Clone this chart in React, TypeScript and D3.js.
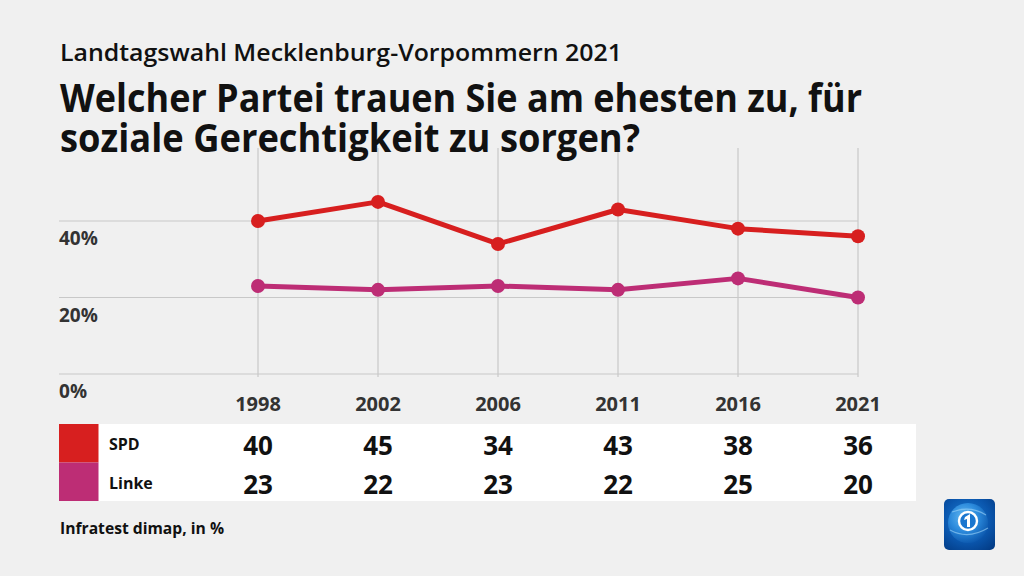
import React from "react";
import * as d3 from "d3";

const years = ["1998", "2002", "2006", "2011", "2016", "2021"];
const spd = [40, 45, 34, 43, 38, 36];
const linke = [23, 22, 23, 22, 25, 20];
const yTicks = [0, 20, 40];
const seriesNames = ["SPD", "Linke"];
const seriesColors = ["#d71f1f", "#bd2d75"];

const W = 1024;
const H = 576;
const FONT = "'Open Sans', 'Noto Sans', sans-serif";

export default function App() {
  const x = d3.scalePoint<string>().domain(years).range([258, 858]).padding(0);
  const y = d3.scaleLinear().domain([0, 40]).range([374, 221]);
  const line = d3
    .line<number>()
    .x((_, i) => x(years[i]) as number)
    .y((d) => y(d));
  const series = [spd, linke];
  const gridTop = 148;

  return (
    <svg
      width={W}
      height={H}
      style={{ position: "absolute", left: 0, top: 0, display: "block" }}
      fontFamily={FONT}
    >
      <defs>
        <radialGradient id="logoBg" cx="0.45" cy="0.4" r="0.75">
          <stop offset="0" stopColor="#1d7fd6" />
          <stop offset="0.6" stopColor="#0a56ad" />
          <stop offset="1" stopColor="#033c86" />
        </radialGradient>
        <radialGradient id="globe" cx="0.4" cy="0.35" r="0.7">
          <stop offset="0" stopColor="#6cc0f5" />
          <stop offset="0.5" stopColor="#2f8fe0" />
          <stop offset="1" stopColor="#0a55ab" />
        </radialGradient>
      </defs>
      <rect x={0} y={0} width={W} height={H} fill="#f0f0f0" />

      {/* subtitle */}
      <text x={60} y={61} fontSize={24} fontWeight={600} fill="#111" textLength={562} lengthAdjust="spacingAndGlyphs">
        Landtagswahl Mecklenburg-Vorpommern 2021
      </text>

      {/* grid */}
      {yTicks.map((t) => (
        <line key={"h" + t} x1={59} x2={858} y1={y(t)} y2={y(t)} stroke="#c8c8c8" strokeWidth={1.2} />
      ))}
      {years.map((yr) => (
        <line key={"v" + yr} x1={x(yr)} x2={x(yr)} y1={gridTop} y2={377} stroke="#c8c8c8" strokeWidth={1.2} />
      ))}

      {/* title */}
      <text fontSize={40} fontWeight={700} fill="#111">
        <tspan x={60} y={112} textLength={802} lengthAdjust="spacingAndGlyphs">
          Welcher Partei trauen Sie am ehesten zu, für
        </tspan>
        <tspan x={60} y={152} textLength={580} lengthAdjust="spacingAndGlyphs">
          soziale Gerechtigkeit zu sorgen?
        </tspan>
      </text>

      {/* y labels */}
      {yTicks.map((t) => (
        <text key={"yl" + t} x={59} y={y(t) + 24} fontSize={19} fontWeight={700} fill="#333">
          {t}%
        </text>
      ))}
      {/* x labels */}
      {years.map((yr) => (
        <text key={"xl" + yr} x={x(yr)} y={411} fontSize={20} fontWeight={700} fill="#333" textAnchor="middle">
          {yr}
        </text>
      ))}

      {/* lines */}
      {series.map((s, si) => (
        <g key={"s" + si}>
          <path d={line(s) || ""} fill="none" stroke={seriesColors[si]} strokeWidth={5} strokeLinejoin="round" />
          {s.map((v, i) => (
            <circle key={i} cx={x(years[i])} cy={y(v)} r={7} fill={seriesColors[si]} />
          ))}
        </g>
      ))}

      {/* table */}
      <rect x={98} y={424} width={818} height={77} fill="#ffffff" />
      {series.map((s, si) => {
        const top = 424 + si * 38.5;
        return (
          <g key={"t" + si}>
            <rect x={59} y={top} width={39.5} height={38.5} fill={seriesColors[si]} />
            <text x={109} y={top + 26} fontSize={16} fontWeight={700} fill="#111">
              {seriesNames[si]}
            </text>
            {s.map((v, i) => (
              <text key={i} x={x(years[i])} y={top + 31} fontSize={26} fontWeight={700} fill="#111" textAnchor="middle">
                {v}
              </text>
            ))}
          </g>
        );
      })}

      <text x={60} y={534} fontSize={16} fontWeight={700} fill="#111" textLength={164} lengthAdjust="spacingAndGlyphs">
        Infratest dimap, in %
      </text>

      {/* logo */}
      <g>
        <rect x={944} y={499} width={51} height={51} rx={5} fill="url(#logoBg)" />
        <circle cx={968} cy={523} r={20} fill="url(#globe)" opacity={0.9} />
        <path d="M950 530 Q968 540 988 528" fill="none" stroke="#9fd6fa" strokeWidth={1.2} opacity={0.6} />
        <path d="M952 512 Q970 505 986 515" fill="none" stroke="#9fd6fa" strokeWidth={1.2} opacity={0.6} />
        <circle cx={968} cy={521} r={9} fill="#1a76cf" stroke="#ffffff" strokeWidth={2.4} />
        <path d="M965 517 L970 514 L970 527 L967 527 L967 519 L964 520 Z" fill="#ffffff" />
      </g>
    </svg>
  );
}
